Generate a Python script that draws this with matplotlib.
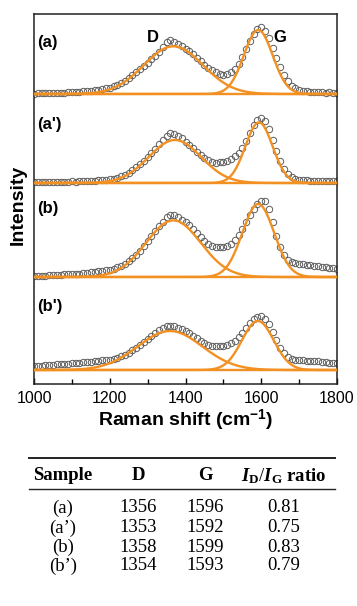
import numpy as np
import matplotlib.pyplot as plt
from matplotlib.lines import Line2D
from matplotlib.ticker import MultipleLocator

plt.rcParams['font.family'] = 'Liberation Sans'
plt.rcParams['mathtext.fontset'] = 'custom'
plt.rcParams['mathtext.rm'] = 'Liberation Serif'
plt.rcParams['mathtext.it'] = 'Liberation Serif:italic'
plt.rcParams['mathtext.bf'] = 'Liberation Serif:bold'
plt.rcParams['mathtext.bfit'] = 'Liberation Serif:italic:bold'
plt.rcParams['mathtext.sf'] = 'Liberation Sans:bold'

# Raman spectra, intensity above each baseline (arb. units), 1000-1800 cm-1 every 10
shift = np.arange(1000, 1801, 10)
spec_a = [0.5, 0.8, 0.6, 1.0, 1.2, 0.9, 1.3, 1.5, 1.4, 1.8,
          1.9, 2.2, 2.4, 2.8, 3.0, 3.5, 3.9, 4.5, 5.0, 5.8,
          6.5, 7.8, 9.2, 11.0, 13.2, 15.8, 18.6, 21.8, 25.0, 28.5,
          31.5, 35.0, 38.5, 42.5, 47.0, 52.0, 54.0, 52.5, 50.0, 48.0,
          45.5, 43.0, 40.0, 36.5, 33.0, 29.5, 26.5, 24.0, 22.0, 20.5,
          19.5, 20.0, 22.0, 25.5, 30.5, 37.5, 45.5, 53.5, 60.5, 65.0,
          67.0, 63.0, 56.0, 46.5, 36.5, 27.0, 19.0, 13.0, 8.5, 6.0,
          4.5, 3.5, 3.0, 2.5, 2.2, 2.0, 1.8, 1.5, 1.6, 1.3, 1.2]
spec_a2 = [1.0, 1.2, 0.8, 1.1, 1.4, 1.0, 1.3, 1.2, 1.5, 1.3,
           1.6, 1.4, 1.8, 1.7, 2.0, 2.2, 2.5, 2.8, 3.2, 3.5,
           3.8, 4.5, 5.5, 6.8, 8.5, 10.5, 13.0, 16.0, 19.0, 22.5,
           26.0, 30.0, 34.5, 39.0, 43.5, 47.5, 50.0, 49.5, 47.5, 45.0,
           41.5, 38.5, 35.0, 31.5, 28.0, 25.0, 23.0, 21.5, 20.5, 20.8,
           21.0, 22.0, 24.0, 27.0, 30.5, 35.0, 42.0, 50.0, 58.0, 63.5,
           65.5, 62.0, 54.0, 43.5, 32.5, 22.5, 14.5, 9.0, 6.0, 4.2,
           3.5, 3.0, 2.8, 2.5, 2.3, 2.2, 2.0, 2.1, 1.8, 1.9, 1.7]
spec_b = [0.8, 1.2, 1.5, 1.3, 1.8, 2.0, 2.4, 2.2, 2.7, 3.0,
          3.2, 3.5, 3.4, 4.0, 4.4, 4.8, 5.2, 5.8, 6.2, 6.8,
          7.5, 8.5, 9.8, 11.5, 13.5, 16.0, 19.0, 22.5, 26.5, 31.0,
          36.0, 41.0, 46.0, 51.0, 55.5, 60.0, 62.5, 62.0, 60.0, 57.5,
          55.0, 52.0, 48.5, 44.5, 40.5, 36.5, 33.5, 31.5, 30.5, 30.0,
          30.5, 31.5, 33.5, 37.0, 42.0, 48.0, 55.0, 62.0, 68.5, 73.5,
          76.5, 76.0, 68.0, 55.0, 41.0, 30.0, 22.0, 17.0, 15.0, 14.0,
          13.5, 13.0, 12.5, 12.0, 11.5, 11.0, 10.5, 10.0, 9.5, 9.0, 8.5]
spec_b2 = [4.0, 4.2, 4.5, 4.8, 5.0, 5.3, 5.6, 5.8, 6.2, 6.5,
           7.0, 7.2, 7.5, 7.8, 8.2, 8.5, 8.8, 9.2, 9.6, 10.0,
           10.5, 11.5, 12.5, 14.0, 15.5, 17.5, 20.0, 22.5, 25.5, 28.5,
           31.5, 34.5, 37.5, 40.0, 42.5, 44.0, 44.5, 44.0, 42.5, 41.0,
           39.0, 37.0, 34.5, 32.0, 29.5, 27.5, 25.5, 24.5, 24.0, 24.0,
           24.5, 25.5, 27.0, 29.5, 33.0, 37.0, 42.0, 47.0, 51.0, 53.5,
           54.0, 51.5, 46.0, 38.5, 30.0, 22.5, 17.0, 13.5, 11.5, 10.5,
           10.0, 9.8, 9.5, 9.2, 9.0, 8.6, 8.2, 7.8, 7.5, 7.2, 7.0]
spectra = [spec_a, spec_a2, spec_b, spec_b2]
labels = ['(a)', "(a')", '(b)', "(b')"]
offsets = [290, 201, 107, 14]
label_dy = [52, 58, 69, 63]

# fitted Gaussian bands (centre, height, sigma)
d_pos = [1368, 1372, 1368, 1359]
d_amp = [47.7, 43.0, 56.6, 39.0]
d_wid = [78, 69, 72, 85]
g_pos = [1592, 1594, 1592, 1591]
g_amp = [64.0, 60.6, 73.0, 49.0]
g_wid = [38, 36, 42, 42]

# table
samples = ['(a)', '(a\u2019)', '(b)', '(b\u2019)']
d_band = [1356, 1353, 1358, 1354]
g_band = [1596, 1592, 1599, 1593]
ratio = [0.81, 0.75, 0.83, 0.79]

orange = '#f39022'


def gauss(x, c, a, s):
    return a * np.exp(-(x - c) ** 2 / (2 * s ** 2))


fig = plt.figure(figsize=(3.57, 6.06), dpi=100)
ax = fig.add_axes([34 / 357, 1 - 384 / 606, 303 / 357, 370 / 606])
xx = np.linspace(1000, 1800, 801)
for i in range(4):
    off = offsets[i]
    ax.plot(shift, np.array(spectra[i]) + off, 'o', mfc='none', mec='#5c5c5c',
            ms=4.6, mew=0.7, zorder=2)
    ax.axhline(off, color=orange, lw=1.7, zorder=3)
    ax.plot(xx, off + gauss(xx, d_pos[i], d_amp[i], d_wid[i]), color=orange, lw=1.7, zorder=3)
    ax.plot(xx, off + gauss(xx, g_pos[i], g_amp[i], g_wid[i]), color=orange, lw=1.7, zorder=3)
    ax.text(1008, off + label_dy[i], labels[i], fontsize=12, fontweight='bold', va='center')

ax.text(1314, 347, 'D', fontsize=12, fontweight='bold', ha='center', va='center')
ax.text(1648, 347, 'G', fontsize=12, fontweight='bold', ha='center', va='center')

ax.set_xlim(1000, 1800)
ax.set_ylim(0, 370)
ax.set_yticks([])
ax.xaxis.set_major_locator(MultipleLocator(200))
ax.xaxis.set_minor_locator(MultipleLocator(100))
ax.tick_params(axis='x', which='both', direction='in', labelsize=11.5, pad=5, width=1)
ax.tick_params(axis='x', which='major', length=4.5)
ax.tick_params(axis='x', which='minor', length=3.5)
for sp in ax.spines.values():
    sp.set_linewidth(1.1)
    sp.set_color('#222222')
ax.set_xlabel(r'Raman shift (cm$^{\mathsf{-1}}$)', fontsize=14, fontweight='bold', labelpad=1)
ax.set_ylabel('Intensity', fontsize=14, fontweight='bold')
ax.yaxis.set_label_coords(-0.025, 0.484)

# table below the chart
col_x = [63, 138, 205, 284]
head_y = 476
row_y = [508, 528, 547, 566]
serif = 'Liberation Serif'
heads = ['Sample', 'D', 'G', r'$\mathbfit{I}_{\mathbf{D}}/\mathbfit{I}_{\mathbf{G}}$ ratio']
for x, h in zip(col_x, heads):
    fig.text(x / 357, 1 - head_y / 606, h, family=serif, fontsize=13.5, fontweight='bold',
             ha='center', va='center')
for j in range(4):
    vals = [samples[j], str(d_band[j]), str(g_band[j]), '%.2f' % ratio[j]]
    for x, v in zip(col_x, vals):
        fig.text(x / 357, 1 - row_y[j] / 606, v, family=serif, fontsize=13.5,
                 ha='center', va='center')

fig.add_artist(Line2D([29 / 357, 335 / 357], [1 - 458 / 606] * 2, color='#222222', lw=1.4))
fig.add_artist(Line2D([29 / 357, 335 / 357], [1 - 489 / 606] * 2, color='#222222', lw=1.0))

fig.savefig('out.png', dpi=100)
